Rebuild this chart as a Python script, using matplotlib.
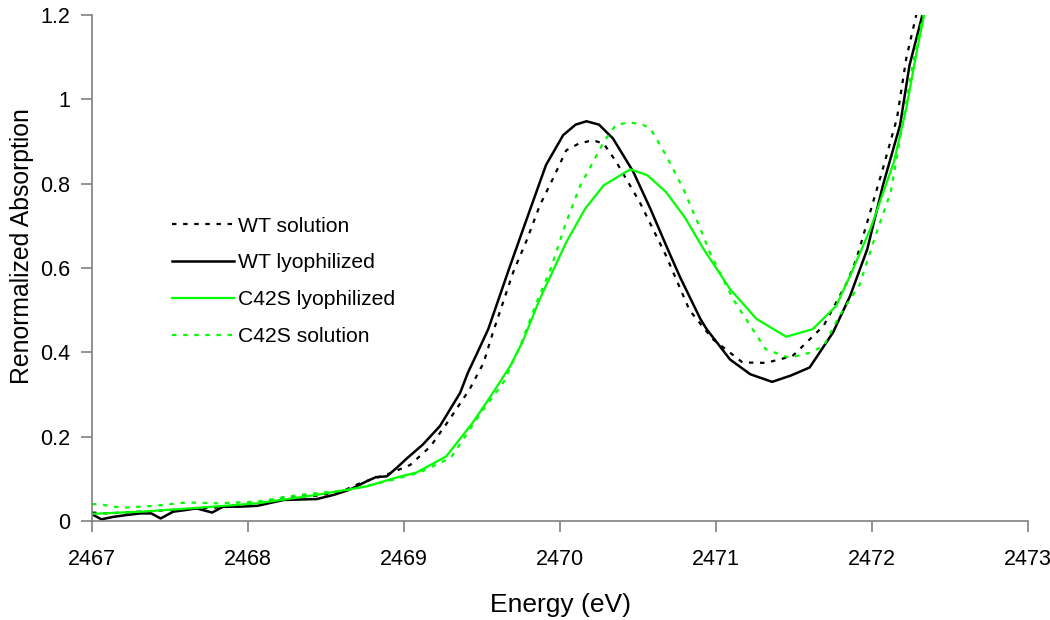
import matplotlib
matplotlib.use("Agg")
import matplotlib.pyplot as plt

plt.rcParams['font.family'] = ['Liberation Sans', 'DejaVu Sans']

# WT lyophilized (black solid)
wt_lyo_x = [2467.0, 2467.06, 2467.14, 2467.22, 2467.31, 2467.38, 2467.44, 2467.52, 2467.6, 2467.67,
            2467.77, 2467.84, 2467.95, 2468.06, 2468.23, 2468.44, 2468.55, 2468.65, 2468.76, 2468.82,
            2468.89, 2468.95, 2469.02, 2469.12, 2469.23, 2469.36, 2469.41, 2469.47, 2469.54, 2469.68,
            2469.80, 2469.91, 2470.02, 2470.1, 2470.17, 2470.25, 2470.34, 2470.47, 2470.58, 2470.69,
            2470.77, 2470.90, 2470.94, 2471.09, 2471.22, 2471.36, 2471.48, 2471.60, 2471.75, 2471.86,
            2471.97, 2472.07, 2472.18, 2472.24, 2472.33]
wt_lyo_y = [0.016, 0.004, 0.010, 0.014, 0.018, 0.018, 0.006, 0.022, 0.026, 0.030,
            0.020, 0.034, 0.034, 0.036, 0.050, 0.052, 0.062, 0.074, 0.094, 0.104,
            0.106, 0.125, 0.149, 0.181, 0.225, 0.304, 0.352, 0.399, 0.455, 0.605,
            0.730, 0.844, 0.915, 0.940, 0.948, 0.940, 0.907, 0.828, 0.740, 0.645,
            0.578, 0.479, 0.455, 0.383, 0.348, 0.330, 0.345, 0.364, 0.447, 0.534,
            0.645, 0.796, 0.939, 1.080, 1.210]

# WT solution (black dotted)
wt_sol_x = [2467.0, 2467.1, 2467.2, 2467.3, 2467.4, 2467.5, 2467.6, 2467.7, 2467.8, 2467.9,
            2468.0, 2468.12, 2468.23, 2468.44, 2468.6, 2468.72, 2468.91, 2469.04, 2469.17, 2469.29,
            2469.42, 2469.51, 2469.57, 2469.70, 2469.79, 2469.87, 2469.96, 2470.04, 2470.12, 2470.21,
            2470.28, 2470.36, 2470.51, 2470.68, 2470.83, 2470.98, 2471.17, 2471.32, 2471.49, 2471.69,
            2471.84, 2471.90, 2472.07, 2472.16, 2472.22, 2472.29]
wt_sol_y = [0.020, 0.018, 0.020, 0.022, 0.024, 0.026, 0.028, 0.030, 0.032, 0.034,
            0.038, 0.047, 0.056, 0.060, 0.070, 0.090, 0.113, 0.133, 0.177, 0.240,
            0.312, 0.375, 0.447, 0.590, 0.669, 0.748, 0.816, 0.879, 0.895, 0.903,
            0.895, 0.852, 0.757, 0.629, 0.500, 0.431, 0.376, 0.375, 0.391, 0.463,
            0.566, 0.621, 0.836, 0.955, 1.098, 1.210]

# C42S lyophilized (green solid)
c42_lyo_x = [2467.0, 2467.31, 2467.63, 2468.06, 2468.44, 2468.76, 2468.97, 2469.08, 2469.27, 2469.44,
             2469.57, 2469.68, 2469.76, 2469.87, 2470.04, 2470.16, 2470.28, 2470.45, 2470.56, 2470.68,
             2470.80, 2470.92, 2471.09, 2471.26, 2471.45, 2471.62, 2471.77, 2471.86, 2471.99, 2472.14,
             2472.22, 2472.29, 2472.34]
c42_lyo_y = [0.017, 0.022, 0.030, 0.042, 0.062, 0.082, 0.105, 0.115, 0.153, 0.233,
             0.304, 0.367, 0.425, 0.526, 0.661, 0.740, 0.796, 0.834, 0.820, 0.780,
             0.720, 0.645, 0.550, 0.479, 0.437, 0.455, 0.510, 0.582, 0.693, 0.851,
             0.979, 1.120, 1.210]

# C42S solution (green dotted)
c42_sol_x = [2467.0, 2467.05, 2467.13, 2467.22, 2467.4, 2467.61, 2467.8, 2468.06, 2468.33, 2468.65,
             2468.9, 2469.1, 2469.3, 2469.5, 2469.64, 2469.75, 2469.85, 2469.94, 2470.04, 2470.13,
             2470.19, 2470.28, 2470.36, 2470.45, 2470.53, 2470.58, 2470.68, 2470.79, 2470.90, 2470.96,
             2471.11, 2471.22, 2471.32, 2471.47, 2471.60, 2471.69, 2471.79, 2471.92, 2472.03, 2472.12,
             2472.18, 2472.26, 2472.34]
c42_sol_y = [0.040, 0.040, 0.034, 0.032, 0.036, 0.044, 0.042, 0.046, 0.062, 0.074,
             0.095, 0.115, 0.150, 0.260, 0.330, 0.420, 0.518, 0.598, 0.709, 0.796,
             0.836, 0.899, 0.940, 0.945, 0.940, 0.930, 0.867, 0.788, 0.693, 0.637,
             0.526, 0.463, 0.407, 0.387, 0.399, 0.415, 0.486, 0.560, 0.685, 0.780,
             0.907, 1.080, 1.220]

x_ticks = [2467, 2468, 2469, 2470, 2471, 2472, 2473]
y_ticks = [0, 0.2, 0.4, 0.6, 0.8, 1.0, 1.2]
y_tick_labels = ['0', '0.2', '0.4', '0.6', '0.8', '1', '1.2']

green = '#00ff00'
fig = plt.figure(figsize=(10.5, 6.2), dpi=100)
ax = fig.add_axes([92 / 1050, 99 / 620, 936 / 1050, 506 / 620])

ax.plot(wt_sol_x, wt_sol_y, color='black', lw=1.6, linestyle=(0, (2, 3)), label='WT solution')
ax.plot(wt_lyo_x, wt_lyo_y, color='black', lw=1.8, label='WT lyophilized')
ax.plot(c42_lyo_x, c42_lyo_y, color=green, lw=1.6, label='C42S lyophilized')
ax.plot(c42_sol_x, c42_sol_y, color=green, lw=1.6, linestyle=(0, (2, 3)), label='C42S solution')

ax.set_xlim(2467, 2473)
ax.set_ylim(0, 1.2)
ax.set_xticks(x_ticks)
ax.set_xticklabels([str(t) for t in x_ticks])
ax.set_yticks(y_ticks)
ax.set_yticklabels(y_tick_labels)

for side in ['top', 'right']:
    ax.spines[side].set_visible(False)
for side in ['left', 'bottom']:
    ax.spines[side].set_color('#808080')
    ax.spines[side].set_linewidth(1.2)
ax.tick_params(axis='both', colors='#808080', labelcolor='black', length=8, width=1.2,
               labelsize=15.5, direction='out')
ax.tick_params(axis='x', pad=12)
ax.tick_params(axis='y', pad=8)

ax.set_xlabel('Energy (eV)', fontsize=19, labelpad=17)
ax.set_ylabel('Renormalized Absorption', fontsize=17.8, va='center')
ax.yaxis.set_label_coords(-0.075, 0.543)

ax.legend(loc='upper left', bbox_to_anchor=(161 / 1050, 1 - 206 / 620),
          bbox_transform=fig.transFigure, frameon=False, fontsize=15.2,
          handlelength=2.95, handletextpad=0.2, labelspacing=0.85, borderpad=0)

fig.savefig('out.png', dpi=100)
